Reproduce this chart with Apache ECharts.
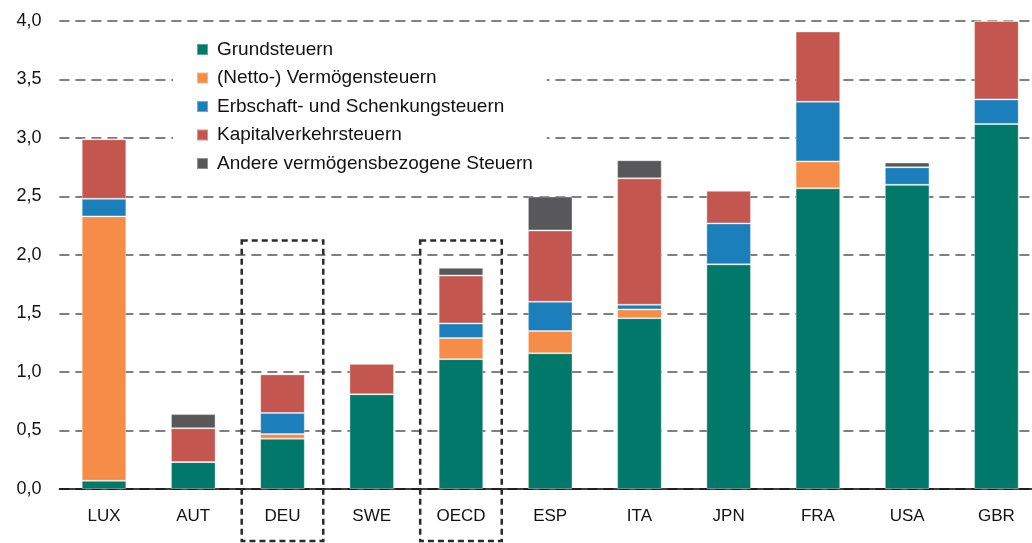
<!DOCTYPE html>
<html>
<head>
<meta charset="utf-8">
<script src="https://cdn.jsdelivr.net/npm/echarts@6/dist/echarts.min.js"></script>
<style>
html,body{margin:0;padding:0;background:#fff;overflow:hidden;}
#chart{width:1041px;height:543px;}
</style>
</head>
<body>
<div id="chart"></div>
<script>
const categories = ['LUX','AUT','DEU','SWE','OECD','ESP','ITA','JPN','FRA','USA','GBR'];
const seriesNames = ['Grundsteuern','(Netto-) Vermögensteuern','Erbschaft- und Schenkungsteuern','Kapitalverkehrsteuern','Andere vermögensbezogene Steuern'];
const grundsteuern      = [0.07, 0.23, 0.43, 0.81, 1.11, 1.16, 1.46, 1.92, 2.57, 2.60, 3.12];
const vermoegensteuern  = [2.26, 0,    0.04, 0,    0.18, 0.19, 0.075,0,    0.23, 0,    0];
const erbschaftsteuern  = [0.15, 0,    0.18, 0,    0.125,0.25, 0.04, 0.35, 0.51, 0.15, 0.21];
const kapitalverkehr    = [0.51, 0.29, 0.33, 0.26, 0.41, 0.61, 1.08, 0.28, 0.60, 0,    0.67];
const andere            = [0,    0.12, 0,    0,    0.065,0.29, 0.155,0,    0,    0.04, 0];
const yTicks = [0, 0.5, 1.0, 1.5, 2.0, 2.5, 3.0, 3.5, 4.0];
const highlighted = ['DEU','OECD'];
const highlightTop = 2.125;
const colors = ['#00786A','#F58C48','#1A7FBA','#C35750','#58585A'];

const seriesData = [grundsteuern, vermoegensteuern, erbschaftsteuern, kapitalverkehr, andere];
const font = '"Liberation Sans", Arial, sans-serif';

const chart = echarts.init(document.getElementById('chart'));
chart.setOption({
  animation: false,
  color: colors,
  grid: {left: 59.4, right: 0, top: 21, bottom: 54},
  legend: {
    orient: 'vertical', left: 173, top: 30,
    padding: [10, 14, 10, 23],
    backgroundColor: '#fff',
    itemWidth: 11, itemHeight: 11, itemGap: 9.5,
    icon: 'rect',
    textStyle: {fontFamily: font, fontSize: 19, lineHeight: 19, color: '#111', padding: [0,0,0,4]},
    data: seriesNames
  },
  xAxis: {
    type: 'category', data: categories,
    axisLine: {lineStyle: {color: '#000', width: 1.5}},
    axisTick: {show: false},
    axisLabel: {fontFamily: font, fontSize: 17, color: '#111', margin: 19}
  },
  yAxis: {
    type: 'value', min: yTicks[0], max: yTicks[yTicks.length-1], interval: 0.5,
    axisLine: {show: false}, axisTick: {show: false},
    axisLabel: {fontFamily: font, fontSize: 18, color: '#111', margin: 18,
      formatter: v => v.toFixed(1).replace('.', ',')},
    splitLine: {lineStyle: {color: '#555', width: 1.5, type: [10, 6]}}
  },
  series: seriesNames.map((name, i) => ({
    name: name, type: 'bar', stack: 'total', barWidth: '50%',
    itemStyle: {color: colors[i], borderColor: 'rgba(255,255,255,0.35)', borderWidth: 1},
    data: seriesData[i]
  }))
});

function drawBoxes(){
  const h = chart.getHeight();
  const elements = highlighted.map(cat => {
    const c = chart.convertToPixel({xAxisIndex: 0}, cat);
    const c2 = chart.convertToPixel({xAxisIndex: 0}, categories[categories.indexOf(cat)+1]);
    const step = c2 - c;
    const top = chart.convertToPixel({yAxisIndex: 0}, highlightTop);
    const half = step * 0.457;
    return {
      type: 'rect', silent: true, z: 100,
      shape: {x: c - half, y: top, width: half * 2, height: h - 2 - top},
      style: {fill: 'none', stroke: '#2a2a2a', lineWidth: 2.5, lineDash: [6, 4]}
    };
  });
  chart.setOption({graphic: elements});
}
drawBoxes();
</script>
</body>
</html>
